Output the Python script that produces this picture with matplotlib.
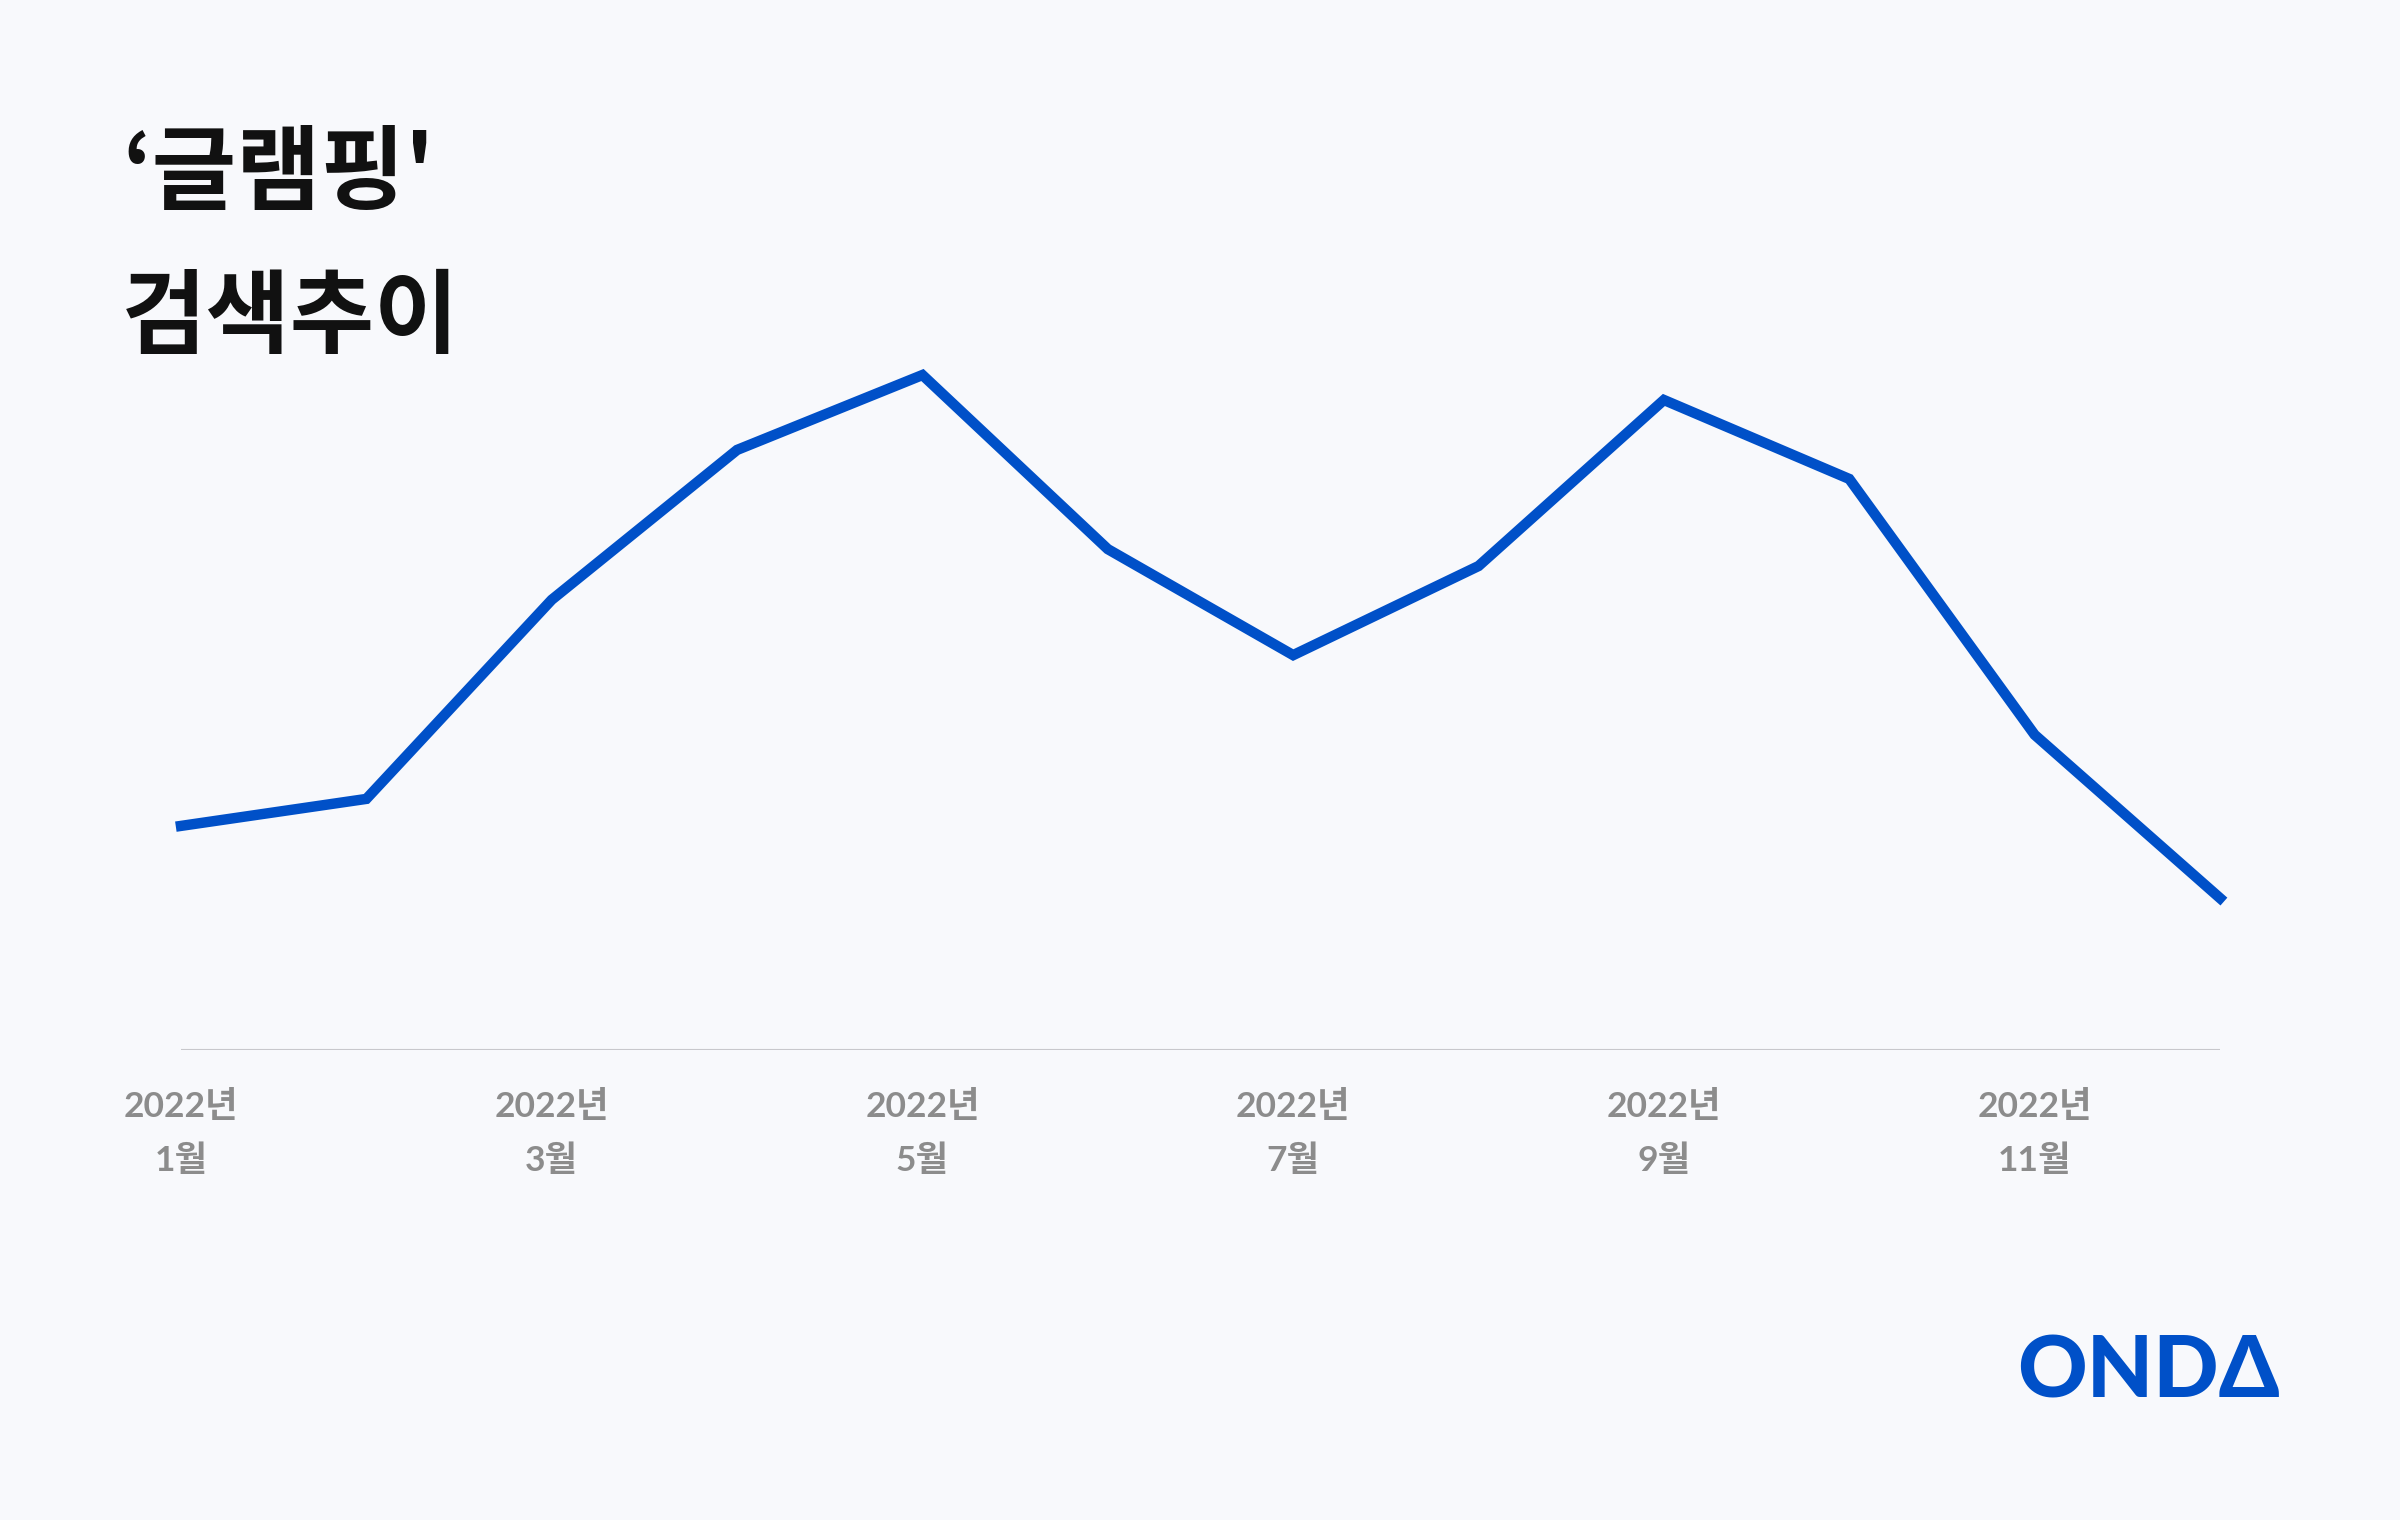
import numpy as np
import matplotlib.pyplot as plt

# 월별 검색 지수 (최고값 = 100)
months = list(range(1, 13))
values = [33.2, 37.2, 66.7, 88.9, 100, 74.2, 58.5, 71.7, 96.3, 84.6, 46.7, 22.5]
tick_months = [1, 3, 5, 7, 9, 11]
tick_labels = ['2022년\n%d월' % m for m in tick_months]

bg = '#F8F9FC'
blue = '#0050C8'

fig = plt.figure(figsize=(24, 15.2), dpi=100, facecolor=bg)
ax = fig.add_axes([181 / 2400, 1 - 1050 / 1520, (2220 - 181) / 2400, 675 / 1520])
ax.set_facecolor(bg)

ax.plot(months, values, color=blue, linewidth=7.5, solid_joinstyle='miter', clip_on=False, zorder=3)
ax.axhline(0, color='#C8C8CC', linewidth=1.5)

ax.set_xlim(1, 12)
ax.set_ylim(0, 100)
ax.set_yticks([])
ax.set_xticks(tick_months)
ax.set_xticklabels(tick_labels, family=['Lato', 'Noto Sans CJK KR'], fontsize=25.5,
                   fontweight='bold', color='#8C8C8C', linespacing=1.8)
ax.tick_params(axis='x', length=0, pad=29)
for s in ax.spines.values():
    s.set_visible(False)

# 제목
fig.text(122 / 2400, 1 - 128 / 1520, "‘글램핑'\n검색추이", family=['Noto Sans CJK KR', 'DejaVu Sans'],
         fontsize=66, fontweight='black', color='#111111', va='top', ha='left', linespacing=1.68)

# 로고
fig.text(2280 / 2400, 1 - 1398 / 1520, 'ONDΔ', family=['Lato', 'DejaVu Sans'], fontsize=62,
         fontweight='black', color=blue, ha='right', va='baseline')

fig.savefig('out.png', dpi=100, facecolor=bg)
